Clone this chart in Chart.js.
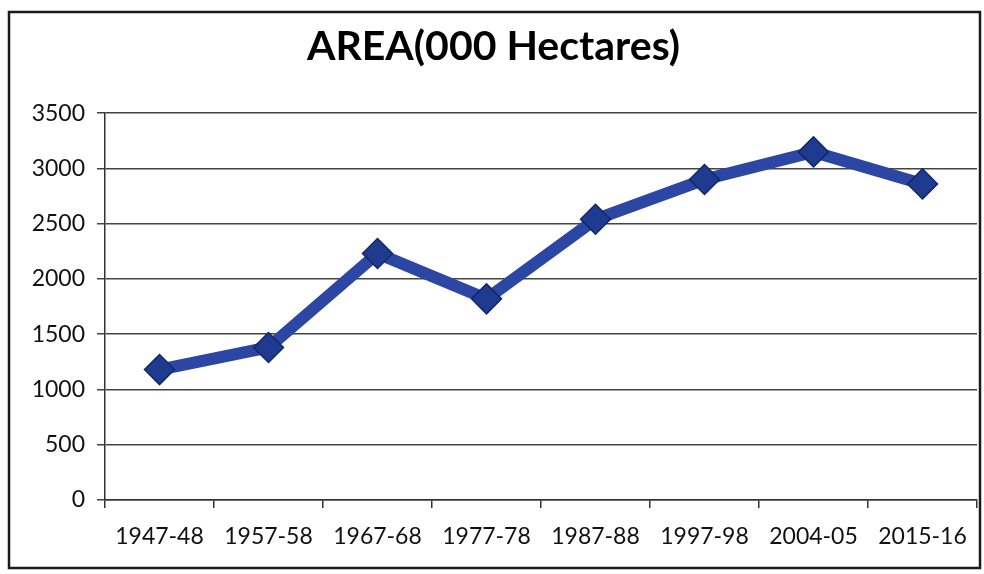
<!DOCTYPE html>
<html>
<head>
<meta charset="utf-8">
<script src="https://cdn.jsdelivr.net/npm/chart.js@4"></script>
<style>
  body { margin: 0; background: #fff; }
  #wrap { width: 984px; height: 574px; position: relative; }
</style>
</head>
<body>
<div id="wrap"><canvas id="myChart" width="984" height="574"></canvas></div>
<script>
const years = ['1947-48', '1957-58', '1967-68', '1977-78', '1987-88', '1997-98', '2004-05', '2015-16'];
const area = [1180, 1380, 2230, 1820, 2540, 2900, 3150, 2860];
const yTicks = [0, 500, 1000, 1500, 2000, 2500, 3000, 3500];

// white page + outer frame like the scanned chart box
const frame = {
    id: 'frame',
    beforeDraw(chart) {
        const c = chart.ctx;
        c.save();
        c.fillStyle = '#fff';
        c.fillRect(0, 0, chart.width, chart.height);
        c.strokeStyle = '#1a1a1a';
        c.lineWidth = 2.5;
        c.strokeRect(9, 12, 971, 556);
        c.restore();
    }
};

const ctx = document.getElementById('myChart');
new Chart(ctx, {
    type: 'line',
    data: {
        labels: years,
        datasets: [{
            label: 'AREA(000 Hectares)',
            data: area,
            borderColor: '#2b47a3',
            borderWidth: 12,
            pointStyle: 'rectRot',
            pointRadius: 15,
            pointHoverRadius: 15,
            pointBackgroundColor: '#1f3b8f',
            pointBorderColor: '#13286a',
            pointBorderWidth: 1.5,
            tension: 0
        }]
    },
    options: {
        responsive: false,
        animation: false,
        layout: { autoPadding: false, padding: { left: 10, right: 7, top: 8, bottom: 6 } },
        plugins: {
            legend: { display: false },
            tooltip: { enabled: false },
            title: {
                display: true,
                text: 'AREA(000 Hectares)',
                color: '#000',
                font: { family: 'Lato', size: 41, weight: 'bold' },
                padding: { top: 14, bottom: 42 }
            }
        },
        scales: {
            x: {
                offset: true,
                afterFit(axis) {
                    axis.height = 68;
                    axis.paddingLeft = 0;
                    axis.paddingRight = 0;
                },
                grid: {
                    offset: true,
                    drawOnChartArea: false,
                    color: '#333',
                    tickLength: 8,
                    lineWidth: 1.5
                },
                border: { color: '#333', width: 1.5 },
                ticks: {
                    color: '#111',
                    font: { family: 'Lato', size: 23 },
                    padding: 15,
                    maxRotation: 0,
                    autoSkip: false
                }
            },
            y: {
                min: 0,
                max: 3500,
                afterBuildTicks(axis) {
                    axis.ticks = yTicks.map(v => ({ value: v }));
                },
                afterFit(axis) { axis.width = 95; },
                grid: {
                    color: '#444',
                    lineWidth: 1.5,
                    tickLength: 8
                },
                border: { color: '#333', width: 1.5 },
                ticks: {
                    color: '#111',
                    font: { family: 'Lato', size: 23 },
                    padding: 12,
                    callback: v => String(v)
                }
            }
        }
    },
    plugins: [frame]
});
</script>
</body>
</html>
